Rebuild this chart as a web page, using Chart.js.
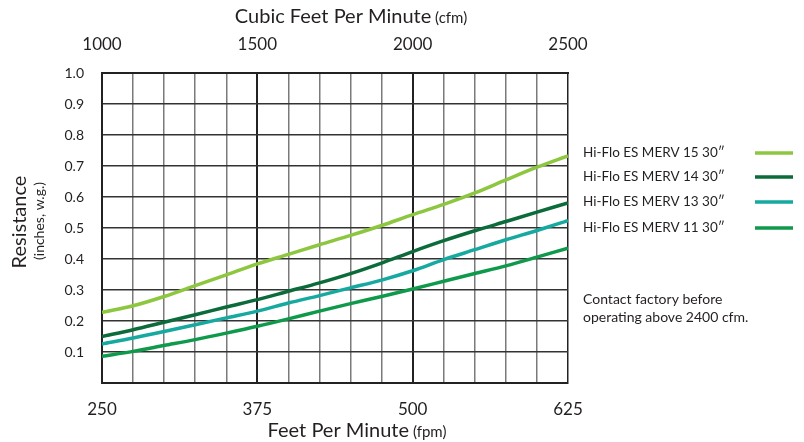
<!DOCTYPE html>
<html>
<head>
<meta charset="utf-8">
<script src="https://cdn.jsdelivr.net/npm/chart.js@4.4.1/dist/chart.umd.min.js"></script>
<style>
  html, body { margin: 0; padding: 0; background: #fff; }
  #wrap { width: 804px; height: 442px; }
</style>
</head>
<body>
<div id="wrap"><canvas id="resistChart" width="804" height="442"></canvas></div>
<script>
// fpm 250..625 every 25
const fpm = [250, 275, 300, 325, 350, 375, 400, 425, 450, 475, 500, 525, 550, 575, 600, 625];
const fpmLabels = [250, 375, 500, 625];
const cfmLabels = [1000, 1500, 2000, 2500];

const merv15 = [0.228, 0.249, 0.279, 0.314, 0.349, 0.384, 0.415, 0.446, 0.476, 0.508, 0.543, 0.576, 0.613, 0.655, 0.696, 0.733];
const merv14 = [0.150, 0.172, 0.196, 0.220, 0.245, 0.269, 0.296, 0.323, 0.353, 0.387, 0.424, 0.459, 0.491, 0.521, 0.551, 0.581];
const merv13 = [0.126, 0.145, 0.166, 0.188, 0.210, 0.232, 0.258, 0.282, 0.307, 0.332, 0.362, 0.398, 0.430, 0.462, 0.492, 0.524];
const merv11 = [0.086, 0.102, 0.121, 0.140, 0.161, 0.183, 0.207, 0.232, 0.256, 0.279, 0.303, 0.328, 0.353, 0.378, 0.406, 0.435];

const seriesNames = ["Hi-Flo ES MERV 15 30\u2033", "Hi-Flo ES MERV 14 30\u2033", "Hi-Flo ES MERV 13 30\u2033", "Hi-Flo ES MERV 11 30\u2033"];
const seriesColors = ["#8dc63f", "#0b6b3a", "#16a9a0", "#0f9a4b"];
const noteLines = ["Contact factory before", "operating above 2400 cfm."];

const FONT = "Lato, 'Open Sans', sans-serif";
const TXT = "#231f20";

function toPts(vals) {
  return vals.map((v, i) => ({ x: fpm[i], y: v }));
}

// titles, legend, note
const extras = {
  id: "extras",
  afterDraw(chart) {
    const c = chart.ctx;
    c.save();
    c.fillStyle = TXT;
    c.textBaseline = "middle";

    function mixed(big, small, cx, cy, bigSize, smallSize) {
      c.font = bigSize + "px " + FONT;
      const w1 = c.measureText(big).width;
      c.font = smallSize + "px " + FONT;
      const w2 = c.measureText(small).width;
      let x = cx - (w1 + w2) / 2;
      c.textAlign = "left";
      c.font = bigSize + "px " + FONT;
      c.fillText(big, x, cy);
      c.font = smallSize + "px " + FONT;
      c.fillText(small, x + w1, cy + 1);
    }

    mixed("Cubic Feet Per Minute", " (cfm)", 351, 17, 20, 15);
    mixed("Feet Per Minute", " (fpm)", 357, 431, 20, 15);

    // y axis title
    c.save();
    c.translate(20, 222);
    c.rotate(-Math.PI / 2);
    c.textAlign = "center";
    c.font = "20px " + FONT;
    c.fillText("Resistance", 0, 0);
    c.restore();
    c.save();
    c.translate(39, 221);
    c.rotate(-Math.PI / 2);
    c.textAlign = "center";
    c.font = "14px " + FONT;
    c.fillText("(inches, w.g.)", 0, 0);
    c.restore();

    // legend
    const rows = [153, 177, 202, 228];
    c.textAlign = "left";
    c.font = "13.5px " + FONT;
    seriesNames.forEach((name, i) => {
      c.fillStyle = TXT;
      c.fillText(name, 583, rows[i]);
      c.strokeStyle = seriesColors[i];
      c.lineWidth = 3.5;
      c.beginPath();
      c.moveTo(755, rows[i]);
      c.lineTo(793, rows[i]);
      c.stroke();
    });

    c.fillStyle = TXT;
    c.font = "14px " + FONT;
    c.fillText(noteLines[0], 583, 299);
    c.fillText(noteLines[1], 583, 317);
    c.restore();
  },
};

new Chart(document.getElementById("resistChart"), {
  type: "line",
  data: {
    datasets: [
      { label: seriesNames[0], data: toPts(merv15), borderColor: seriesColors[0] },
      { label: seriesNames[1], data: toPts(merv14), borderColor: seriesColors[1] },
      { label: seriesNames[2], data: toPts(merv13), borderColor: seriesColors[2] },
      { label: seriesNames[3], data: toPts(merv11), borderColor: seriesColors[3] },
    ],
  },
  options: {
    responsive: false,
    animation: false,
    layout: { padding: { left: 0, right: 236, top: 0, bottom: 0 } },
    elements: {
      line: { borderWidth: 3.5, cubicInterpolationMode: "monotone", fill: false },
      point: { radius: 0 },
    },
    plugins: { legend: { display: false }, tooltip: { enabled: false } },
    scales: {
      x: {
        type: "linear",
        position: "bottom",
        min: 250,
        max: 625,
        afterBuildTicks: (s) => { s.ticks = fpm.map((v) => ({ value: v })); },
        afterFit: (s) => { s.height = 59; },
        ticks: {
          autoSkip: false,
          maxRotation: 0,
          padding: 16,
          color: TXT,
          font: { family: FONT, size: 17 },
          callback: (v) => (fpmLabels.includes(v) ? String(v) : ""),
        },
        border: { display: true, color: "#222", width: 2 },
        grid: {
          drawTicks: false,
          color: (ctx) => {
            const v = ctx.tick && ctx.tick.value;
            if (v === 375 || v === 500 || v === 250 || v === 625) return "#222";
            return "#7a7a7a";
          },
          lineWidth: (ctx) => {
            const v = ctx.tick && ctx.tick.value;
            return v === 375 || v === 500 ? 2 : 1.5;
          },
        },
      },
      x2: {
        type: "linear",
        position: "top",
        min: 1000,
        max: 2500,
        afterBuildTicks: (s) => { s.ticks = cfmLabels.map((v) => ({ value: v })); },
        afterFit: (s) => { s.height = 73; },
        ticks: {
          autoSkip: false,
          maxRotation: 0,
          padding: 18,
          color: TXT,
          font: { family: FONT, size: 17 },
          callback: (v) => String(v),
        },
        border: { display: true, color: "#222", width: 2 },
        grid: { display: false, drawTicks: false },
      },
      y: {
        min: 0,
        max: 1.0,
        afterFit: (s) => { s.width = 102; },
        ticks: {
          stepSize: 0.1,
          padding: 18,
          color: TXT,
          font: { family: FONT, size: 14 },
          callback: (v) => (v < 0.05 ? "" : v.toFixed(1)),
        },
        border: { display: true, color: "#222", width: 2 },
        grid: { drawTicks: false, color: "#333", lineWidth: 1.5 },
      },
    },
  },
  plugins: [extras],
});
</script>
</body>
</html>
